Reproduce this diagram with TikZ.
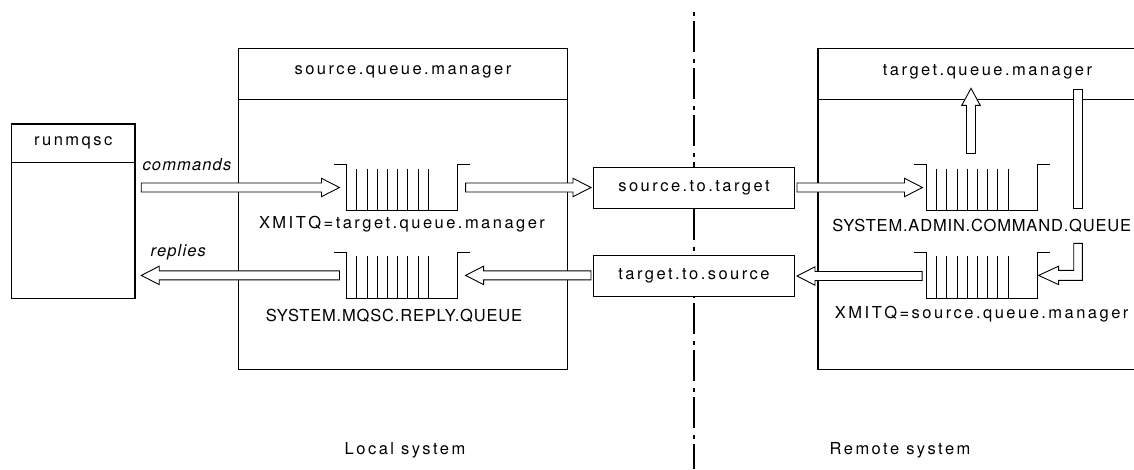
\documentclass[tikz,border=0pt]{standalone}
\usepackage{fontspec}
\usetikzlibrary{arrows,positioning,shapes,calc}
\newfontfamily\diafont{TeX Gyre Heros}[LetterSpace=15]
\newfontfamily\capsfont{TeX Gyre Heros}[LetterSpace=5]
\newfontfamily\msgfont{TeX Gyre Heros}[LetterSpace=7]
\newcommand{\diasize}{\fontsize{16.5pt}{20pt}\selectfont}
% hollow block arrow, horizontal, height taken from the tip
\newcommand{\flow}[2]{%
  \draw[flowline] let \p1=(#1), \p2=(#2), \n1={ifthenelse(\x2>\x1,1,-1)} in
    (\x1,\y2+4.5pt) -- (\x2-\n1*18pt,\y2+4.5pt) -- (\x2-\n1*18pt,\y2+9.2pt) -- (\p2)
    -- (\x2-\n1*18pt,\y2-9.2pt) -- (\x2-\n1*18pt,\y2-4.5pt) -- (\x1,\y2-4.5pt) -- cycle;}
% same, vertical
\newcommand{\rise}[2]{%
  \draw[flowline] let \p1=(#1), \p2=(#2), \n1={ifthenelse(\y2>\y1,1,-1)} in
    (\x2-4.5pt,\y1) -- (\x2-4.5pt,\y2-\n1*17pt) -- (\x2-9.2pt,\y2-\n1*17pt) -- (\p2)
    -- (\x2+9.2pt,\y2-\n1*17pt) -- (\x2+4.5pt,\y2-\n1*17pt) -- (\x2+4.5pt,\y1) -- cycle;}
\tikzset{
    %Define standard arrow tip
    >=stealth',
    %Define style for boxes
    system/.style={
    	rectangle,
    	draw=black, line width=1.3pt,
    	inner sep=0pt
    },
    channel/.style={
    	rectangle,
    	draw=black, line width=1pt,
    	fill=white,
    	minimum width=201pt,
    	minimum height=41pt,
    	font=\diafont\diasize
    },
    queue/.style={
    	rectangle,
    	inner sep=0pt,
    	minimum width=110.7pt,
    	minimum height=45pt
    },
    heading/.style={font=\diafont\diasize},
    qname/.style={font=\diafont\diasize},
    qcaps/.style={font=\capsfont\diasize},
    msg/.style={font=\msgfont\diasize\itshape},
    % Define arrow style
    flowline/.style={
    	draw=black, line width=0.9pt,
    	fill=white,
    	line join=miter},
    divider/.style={line width=1.3pt, dash pattern=on 4pt off 5pt on 31pt off 7pt}
}
\begin{document}
\begin{tikzpicture}[x=1pt,y=-1pt]
		\useasboundingbox (0,0) rectangle (1134,469);
		%divider
		\coordinate (top) at (694,12);
		\coordinate (bottom) at (694,469);
		\draw[divider] (top) -- (bottom);
		%systems
		\node[system, minimum width=123.5pt, minimum height=174.3pt] (runmqsc) at (73.25,211.15) {};
		\node[system, minimum width=328.6pt, minimum height=320.6pt] (sourceqm) at (402.9,209) {};
		\node[system, minimum width=339pt, minimum height=320.6pt] (targetqm) at (987.5,209) {};
		\draw[line width=1pt] ([yshift=-38.7pt]runmqsc.north west) -- ([yshift=-38.7pt]runmqsc.north east);
		\draw[line width=1pt] ([yshift=-51.6pt]sourceqm.north west) -- ([yshift=-51.6pt]sourceqm.north east);
		\draw[line width=1pt] ([yshift=-51.6pt]targetqm.north west) -- ([yshift=-51.6pt]targetqm.north east);
		\node[heading] (runmqsctitle) at ([yshift=-19.3pt]runmqsc.north) {runmqsc};
		\node[heading] (sourceqmtitle) at ([yshift=-24pt]sourceqm.north) {source.queue.manager};
		\node[heading] (targetqmtitle) at ([yshift=-24pt]targetqm.north) {target.queue.manager};
		%channels
		\node[channel] (s2t) at (694,187.5) {source.to.target};
		\node[channel, below=46.5pt of s2t] (t2s) {target.to.source};
		%queues
		\node[queue] (srcxmitq) at (402,187.5) {};
		\node[queue, below=42.5pt of srcxmitq] (replyq) {};
		\node[queue] (admincmdq) at (981.7,187.5) {};
		\node[queue, below=42.5pt of admincmdq] (tgtxmitq) {};
		\foreach \q in {srcxmitq,replyq,admincmdq,tgtxmitq}{
			\draw[line width=0.9pt] ([xshift=-12.5pt]\q.north west) -- (\q.north west) -- (\q.south west)
				-- (\q.south east) -- (\q.north east) -- ([xshift=12.5pt]\q.north east);
			\foreach \k in {0,...,7}
				\draw[line width=0.6pt] ([xshift=10.3pt+\k*10.2pt]\q.south west) -- ([xshift=10.3pt+\k*10.2pt,yshift=-3.7pt]\q.north west);
		}
		\node[qname, below=2pt of srcxmitq] (srcxmitqname) {XMITQ=target.queue.manager};
		\node[qcaps, below=8pt of replyq, xshift=-8pt] (replyqname) {SYSTEM.MQSC.REPLY.QUEUE};
		\node[qcaps, below=5pt of admincmdq] (admincmdqname) {SYSTEM.ADMIN.COMMAND.QUEUE};
		\node[qname, below=5pt of tgtxmitq] (tgtxmitqname) {XMITQ=source.queue.manager};
		%flows
		\coordinate (replyin) at (runmqsc.east |- replyq.west);
		\coordinate (cmdsrv) at (971,88.3);
		\coordinate (ret) at (1078,243.3);
		\flow{[xshift=5.6pt]runmqsc.east}{[xshift=-7pt]srcxmitq.west}
		\flow{[xshift=8pt]srcxmitq.east}{[xshift=-2pt]s2t.west}
		\flow{[xshift=2pt]s2t.east}{[xshift=-3.7pt]admincmdq.west}
		\flow{[xshift=-4pt]tgtxmitq.west}{[xshift=2pt]t2s.east}
		\flow{[xshift=-2pt]t2s.west}{[xshift=8pt]replyq.east}
		\flow{[xshift=-7pt]replyq.west}{[xshift=5.6pt]replyin}
		\rise{[xshift=-10.7pt,yshift=11.3pt]admincmdq.north}{cmdsrv}
		\node[flowline, rectangle, minimum width=8.6pt, minimum height=119.3pt, inner sep=0pt] (cmdbar) at (1078,148.65) {};
		\draw[flowline] let \p1=(ret), \p2=([xshift=1.3pt]tgtxmitq.east) in
			(\x1-4.3pt,\y1) -- (\x1+4.3pt,\y1) -- (\x1+4.3pt,\y2-5pt) -- (\x2+20pt,\y2-5pt) -- (\x2+20pt,\y2-9.2pt)
			-- (\p2) -- (\x2+20pt,\y2+9.2pt) -- (\x2+20pt,\y2+5pt) -- (\x1-4.3pt,\y2+5pt) -- cycle;
		%messages
		\node[msg, anchor=west] (cmdmsg) at (139,165) {commands};
		\node[msg] (replymsg) at (178.3,252.5) {replies};
		%sides
		\node[heading] (local) at (405,450) {Local system};
		\node[heading] (remote) at (900,450) {Remote system};
\end{tikzpicture}
\end{document}
